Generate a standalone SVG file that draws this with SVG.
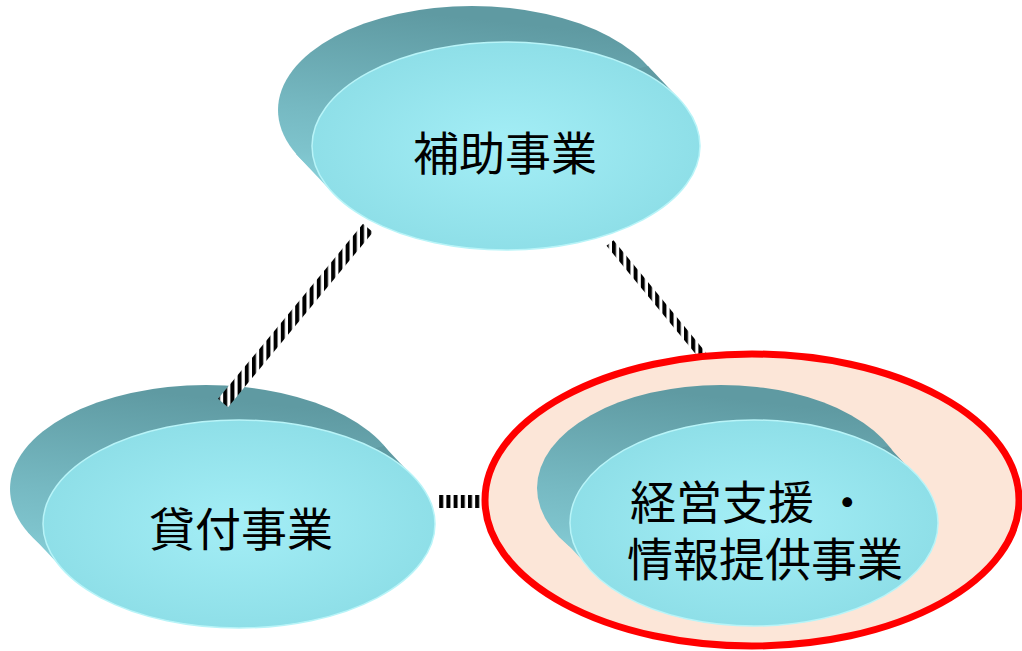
<svg xmlns="http://www.w3.org/2000/svg" width="1022" height="651" viewBox="0 0 1022 651">
<style>
.lbl{font-family:"Noto Sans CJK JP","Noto Sans CJK SC",sans-serif;font-size:46px;fill:#000;dominant-baseline:central}
.side{fill:url(#gSide)}
.face{fill:url(#gFace);stroke:#B8F4F8;stroke-width:1.5}
.conn{fill:none;stroke:url(#stripes)}
</style>
<defs>
<linearGradient id="gSide" x1="0.2" y1="0" x2="0" y2="1">
<stop offset="0" stop-color="#5F9AA2"/>
<stop offset="0.5" stop-color="#76B9C2"/>
<stop offset="1" stop-color="#8AD3DC"/>
</linearGradient>
<radialGradient id="gFace" cx="0.5" cy="0.5" r="0.6">
<stop offset="0" stop-color="#A4EEF6"/>
<stop offset="1" stop-color="#8ADCE5"/>
</radialGradient>
<pattern id="stripes" patternUnits="userSpaceOnUse" width="7.2" height="10">
<rect x="0" y="0" width="7.2" height="10" fill="#fff"/>
<rect x="0" y="0" width="4" height="10" fill="#000"/>
</pattern>
</defs>

<g id="node-loan">
<ellipse class="side" cx="206" cy="489" rx="196" ry="104"/>
<polygon class="side" points="417,481 384,446 28,532 61,567"/>
<ellipse class="face" cx="239" cy="524" rx="196" ry="104"/>
<text class="lbl" x="241" y="526" text-anchor="middle">貸付事業</text>
</g>

<g id="node-subsidy">
<ellipse class="side" cx="472" cy="110" rx="194" ry="104"/>
<polygon class="side" points="682,102 648,66 296,154 330,190"/>
<ellipse class="face" cx="506" cy="146" rx="194" ry="104"/>
<text class="lbl" x="505" y="150" text-anchor="middle">補助事業</text>
</g>

<g id="connectors">
<line class="conn" x1="223" y1="403" x2="368" y2="228" stroke-width="13"/>
<line class="conn" x1="610" y1="243" x2="708" y2="362" stroke-width="9"/>
<line class="conn" x1="437" y1="501.5" x2="490" y2="501.5" stroke-width="13"/>
</g>

<g id="node-support">
<ellipse cx="752" cy="500" rx="267" ry="146" fill="#FCE6D8" stroke="#FF0000" stroke-width="7"/>
<ellipse class="side" cx="721" cy="488" rx="184" ry="103"/>
<polygon class="side" points="921,481 888,446 554,530 587,565"/>
<ellipse class="face" cx="754" cy="523" rx="184" ry="103"/>
<text class="lbl" x="630" y="499">経営支援 ・</text>
<text class="lbl" x="627" y="556">情報提供事業</text>
</g>
</svg>
